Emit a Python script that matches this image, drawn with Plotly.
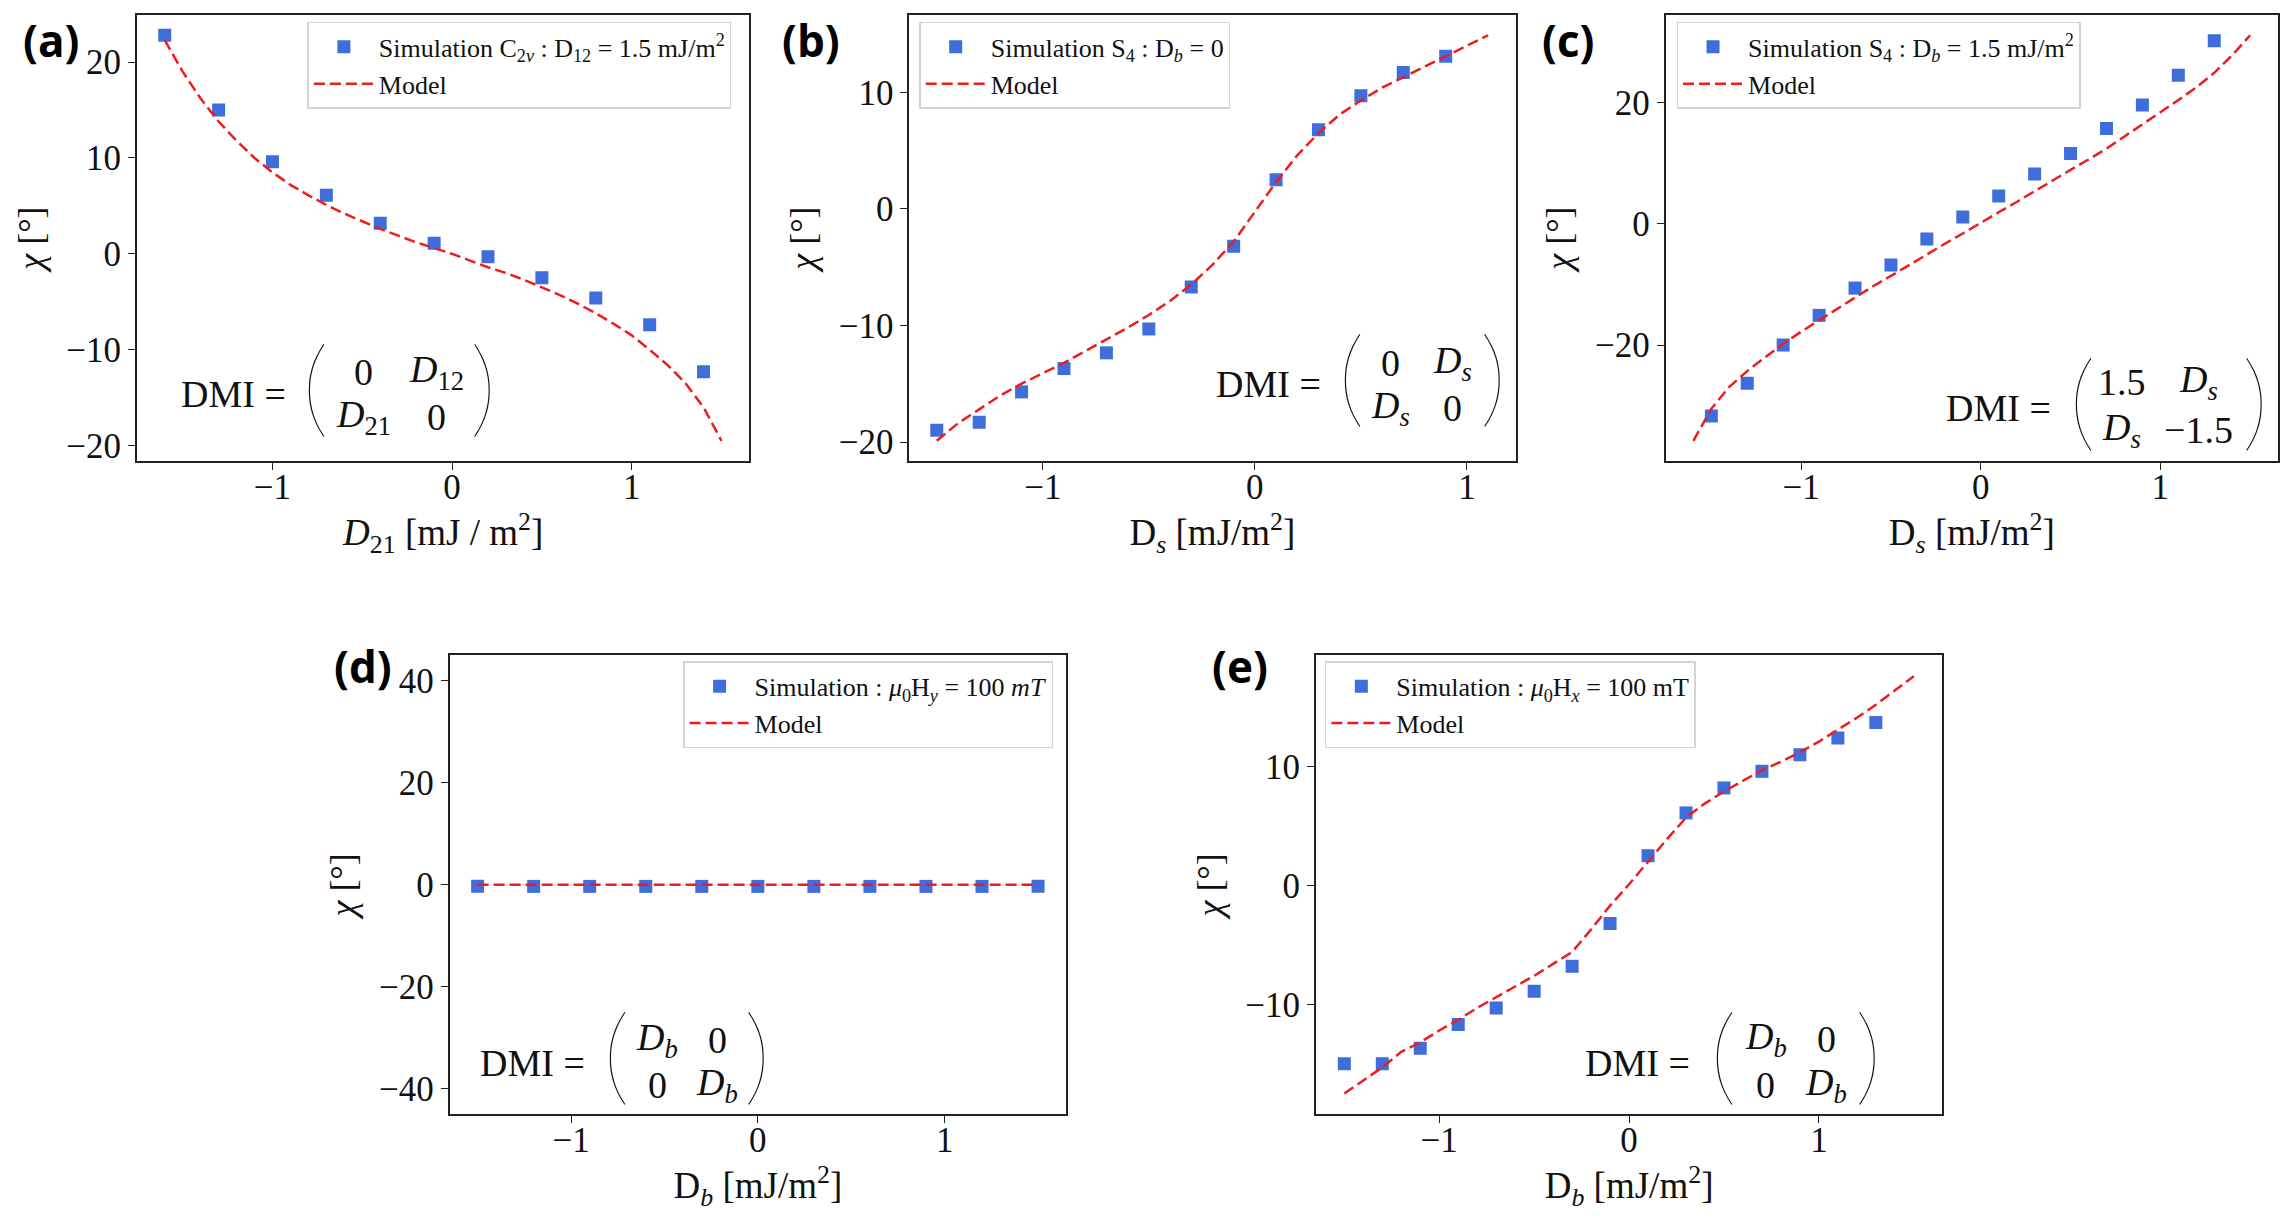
import plotly.graph_objects as go

# ---- data ----
# (a) C2v, D12 = 1.5
a_x = [-1.6, -1.3, -1.0, -0.7, -0.4, -0.1, 0.2, 0.5, 0.8, 1.1, 1.4]
a_sim = [22.8, 15.0, 9.6, 6.1, 3.2, 1.1, -0.3, -2.5, -4.6, -7.4, -12.3]
a_mx = [-1.6, -1.5, -1.4, -1.3, -1.2, -1.1, -1.0, -0.9, -0.8, -0.7, -0.6, -0.5, -0.4, -0.3, -0.2, -0.1,
        0.0, 0.1, 0.2, 0.3, 0.4, 0.5, 0.6, 0.7, 0.8, 0.9, 1.0, 1.1, 1.2, 1.3, 1.4, 1.5]
a_model = [22.3, 19.0, 16.2, 13.8, 11.8, 10.0, 8.5, 7.2, 6.1, 5.1, 4.2, 3.4, 2.6, 1.9, 1.2, 0.6,
           0.0, -0.7, -1.4, -2.0, -2.7, -3.5, -4.3, -5.2, -6.2, -7.3, -8.5, -10.0, -11.6, -13.5, -16.0, -19.5]

# (b) S4, Db = 0
b_x = [-1.5, -1.3, -1.1, -0.9, -0.7, -0.5, -0.3, -0.1, 0.1, 0.3, 0.5, 0.7, 0.9]
b_sim = [-19.0, -18.3, -15.7, -13.7, -12.35, -10.3, -6.7, -3.2, 2.5, 6.8, 9.7, 11.7, 13.1]
b_mx = [-1.5, -1.4, -1.3, -1.2, -1.1, -1.0, -0.9, -0.8, -0.7, -0.6, -0.5, -0.4, -0.3, -0.2, -0.1,
        0.0, 0.1, 0.2, 0.3, 0.4, 0.5, 0.6, 0.7, 0.8, 0.9, 1.0, 1.1]
b_model = [-19.9, -18.4, -17.2, -16.0, -15.0, -14.1, -13.2, -12.2, -11.2, -10.2, -9.1, -7.9, -6.5, -4.8, -2.8,
           -0.2, 2.3, 4.6, 6.5, 8.1, 9.3, 10.4, 11.3, 12.2, 13.1, 14.0, 14.9]

# (c) S4, Db = 1.5
c_x = [-1.5, -1.3, -1.1, -0.9, -0.7, -0.5, -0.3, -0.1, 0.1, 0.3, 0.5, 0.7, 0.9, 1.1, 1.3]
c_sim = [-31.7, -26.3, -20.0, -15.1, -10.6, -6.8, -2.5, 1.1, 4.6, 8.2, 11.6, 15.7, 19.6, 24.5, 30.2]
c_mx = [-1.6, -1.5, -1.4, -1.3, -1.2, -1.1, -1.0, -0.9, -0.8, -0.7, -0.6, -0.5, -0.4, -0.3, -0.2, -0.1,
        0.0, 0.1, 0.2, 0.3, 0.4, 0.5, 0.6, 0.7, 0.8, 0.9, 1.0, 1.1, 1.2, 1.3, 1.4, 1.5]
c_model = [-35.8, -30.5, -26.9, -24.3, -22.0, -19.8, -17.8, -15.9, -14.0, -12.1, -10.3, -8.6, -6.8, -5.1, -3.3, -1.6,
           0.2, 1.9, 3.6, 5.4, 7.1, 8.9, 10.6, 12.4, 14.4, 16.4, 18.3, 20.4, 22.5, 24.9, 27.8, 31.1]

# (d) mu0 Hy = 100 mT
d_x = [-1.5, -1.2, -0.9, -0.6, -0.3, 0.0, 0.3, 0.6, 0.9, 1.2, 1.5]
d_sim = [-0.3, -0.3, -0.3, -0.3, -0.3, -0.3, -0.3, -0.3, -0.3, -0.3, -0.3]
d_mx = [-1.5, -1.2, -0.9, -0.6, -0.3, 0.0, 0.3, 0.6, 0.9, 1.2, 1.5]
d_model = [0.0, 0.0, 0.0, 0.0, 0.0, 0.0, 0.0, 0.0, 0.0, 0.0, 0.0]

# (e) mu0 Hx = 100 mT
e_x = [-1.5, -1.3, -1.1, -0.9, -0.7, -0.5, -0.3, -0.1, 0.1, 0.3, 0.5, 0.7, 0.9, 1.1, 1.3]
e_sim = [-15.0, -15.0, -13.7, -11.7, -10.3, -8.9, -6.8, -3.2, 2.5, 6.1, 8.2, 9.6, 11.0, 12.4, 13.7]
e_mx = [-1.5, -1.4, -1.3, -1.2, -1.1, -1.0, -0.9, -0.8, -0.7, -0.6, -0.5, -0.4, -0.3, -0.2, -0.1,
        0.0, 0.1, 0.2, 0.3, 0.4, 0.5, 0.6, 0.7, 0.8, 0.9, 1.0, 1.1, 1.2, 1.3, 1.4, 1.5]
e_model = [-17.5, -16.4, -15.3, -14.0, -13.2, -12.2, -11.3, -10.3, -9.4, -8.5, -7.6, -6.6, -5.6, -3.7, -1.7,
           0.1, 2.0, 3.9, 5.7, 6.9, 7.9, 8.8, 9.7, 10.4, 11.2, 12.1, 13.1, 14.1, 15.2, 16.4, 17.6]

x_ticks = [-1, 0, 1]
a_yticks = [-20, -10, 0, 10, 20]
b_yticks = [-20, -10, 0, 10]
c_yticks = [-20, 0, 20]
d_yticks = [-40, -20, 0, 20, 40]
e_yticks = [-10, 0, 10]

sim_names = [
    "Simulation C<sub>2<i>v</i></sub> : D<sub>12</sub> = 1.5 mJ/m<sup>2</sup>",
    "Simulation S<sub>4</sub> : D<sub><i>b</i></sub> = 0",
    "Simulation S<sub>4</sub> : D<sub><i>b</i></sub> = 1.5 mJ/m<sup>2</sup>",
    "Simulation : <i>μ</i><sub>0</sub>H<sub><i>y</i></sub> = 100 <i>mT</i>",
    "Simulation : <i>μ</i><sub>0</sub>H<sub><i>x</i></sub> = 100 mT",
]
x_titles = [
    "<i>D</i><sub>21</sub> [mJ / m<sup>2</sup>]",
    "D<sub><i>s</i></sub> [mJ/m<sup>2</sup>]",
    "D<sub><i>s</i></sub> [mJ/m<sup>2</sup>]",
    "D<sub><i>b</i></sub> [mJ/m<sup>2</sup>]",
    "D<sub><i>b</i></sub> [mJ/m<sup>2</sup>]",
]
Ds = "<i>D<sub>s</sub></i>"
Db = "<i>D<sub>b</sub></i>"
matrices = [
    [["0", "<i>D</i><sub>12</sub>"], ["<i>D</i><sub>21</sub>", "0"]],
    [["0", Ds], [Ds, "0"]],
    [["1.5", Ds], [Ds, "−1.5"]],
    [[Db, "0"], ["0", Db]],
    [[Db, "0"], ["0", Db]],
]
letters = ["(a)", "(b)", "(c)", "(d)", "(e)"]

# the page body adds an 8px margin round the figure
WIN_W, WIN_H, OFF = 2288, 1220, 8
W, H = WIN_W - 2 * OFF, WIN_H - 2 * OFF
SERIF = "Liberation Serif, Times New Roman, serif"
INK = "#111111"


def fx(px):
    return (px - OFF) / W


def fy(py):
    return 1 - (py - OFF) / H


def pad(lo, hi, frac=0.05):
    span = hi - lo
    return [lo - frac * span, hi + frac * span]


# lab: (x, y, yanchor) of the panel letter, in window pixels
panels = [
    dict(x=a_x, s=a_sim, mx=a_mx, m=a_model, yt=a_yticks, yr=None,
         px=(137, 750), py=(15, 463), leg=(732, 22, "right"),
         dmi=(0.157, 0.150), paren=(0.291, 0.566), cols=(0.37, 0.49), rows=(0.20, 0.098),
         lab=(51, 8, "top")),
    dict(x=b_x, s=b_sim, mx=b_mx, m=b_model, yt=b_yticks, yr=None,
         px=(910, 1517), py=(15, 463), leg=(920, 22, "left"),
         dmi=(0.593, 0.172), paren=(0.73, 0.964), cols=(0.794, 0.896), rows=(0.22, 0.12),
         lab=(812, 8, "top")),
    dict(x=c_x, s=c_sim, mx=c_mx, m=c_model, yt=c_yticks, yr=None,
         px=(1667, 2280), py=(15, 463), leg=(1678, 22, "left"),
         dmi=(0.543, 0.118), paren=(0.68, 0.964), cols=(0.745, 0.871), rows=(0.178, 0.069),
         lab=(1569, 8, "top")),
    dict(x=d_x, s=d_sim, mx=d_mx, m=d_model, yt=d_yticks, yr=[-45, 45],
         px=(450, 1067), py=(658, 1119), leg=(1054, 664, "right"),
         dmi=(0.134, 0.113), paren=(0.27, 0.50), cols=(0.337, 0.434), rows=(0.163, 0.063),
         lab=(363, 669, "middle")),
    dict(x=e_x, s=e_sim, mx=e_mx, m=e_model, yt=e_yticks, yr=None,
         px=(1317, 1944), py=(658, 1119), leg=(1326, 664, "left"),
         dmi=(0.514, 0.113), paren=(0.651, 0.882), cols=(0.718, 0.815), rows=(0.165, 0.063),
         lab=(1241, 669, "middle")),
]

fig = go.Figure()
layout = {}
annotations = []

for i, p in enumerate(panels):
    n = "" if i == 0 else str(i + 1)
    xa, ya = "x" + n, "y" + n
    leg = "legend" + n

    fig.add_trace(go.Scatter(
        x=p["x"], y=p["s"], mode="markers", name=sim_names[i],
        marker=dict(symbol="square", size=13, color="#3f6ddb"),
        xaxis=xa, yaxis=ya, legend=leg))
    fig.add_trace(go.Scatter(
        x=p["mx"], y=p["m"], mode="lines", name="Model",
        line=dict(color="#ee1c1c", width=2.5, dash="11px,5px"),
        xaxis=xa, yaxis=ya, legend=leg))

    allx = p["x"] + p["mx"]
    ally = p["s"] + p["m"]
    yr = p["yr"] if p["yr"] else pad(min(ally), max(ally))

    axis_common = dict(
        showline=True, mirror=True, linecolor="#222222", linewidth=1.6,
        ticks="outside", ticklen=7, tickwidth=1.4, tickcolor="#222222",
        showgrid=False, zeroline=False,
        tickfont=dict(family=SERIF, size=35, color=INK),
    )
    layout["xaxis" + n] = dict(
        axis_common, domain=[fx(p["px"][0]), fx(p["px"][1])], anchor=ya,
        range=pad(min(allx), max(allx)), tickvals=x_ticks, ticklabelstandoff=-13,
        title=dict(text=x_titles[i], font=dict(family=SERIF, size=37, color=INK), standoff=3),
    )
    layout["yaxis" + n] = dict(
        axis_common, domain=[fy(p["py"][1]), fy(p["py"][0])], anchor=xa,
        range=yr, tickvals=p["yt"],
        title=dict(text="<i>χ</i> [°]", font=dict(family=SERIF, size=36, color=INK), standoff=12),
    )

    lx, ly, anchor = p["leg"]
    layout[leg] = dict(
        x=fx(lx), y=fy(ly), xanchor=anchor, yanchor="top",
        bgcolor="rgba(255,255,255,0.85)", bordercolor="#d4d4d4", borderwidth=1.5,
        font=dict(family=SERIF, size=26, color=INK), itemwidth=60, tracegroupgap=0,
    )

    ref = dict(xref=xa + " domain", yref=ya + " domain", showarrow=False,
               xanchor="center", yanchor="middle")
    annotations.append(dict(ref, x=p["dmi"][0], y=p["dmi"][1], text="DMI =",
                            font=dict(family=SERIF, size=38, color=INK)))
    lp, rp = p["paren"]
    for xx, ch in ((lp, "("), (rp, ")")):
        annotations.append(dict(ref, x=xx, y=p["dmi"][1] + 0.026, text=ch,
                                font=dict(family="Lato, DejaVu Sans", size=106, color=INK, weight=200)))
    for r in range(2):
        for c in range(2):
            annotations.append(dict(ref, x=p["cols"][c], y=p["rows"][r], text=matrices[i][r][c],
                                    font=dict(family=SERIF, size=38, color=INK)))

    labx, laby, labanchor = p["lab"]
    annotations.append(dict(xref="paper", yref="paper", showarrow=False,
                            xanchor="center", yanchor=labanchor,
                            x=fx(labx), y=fy(laby), text="<b>" + letters[i] + "</b>",
                            font=dict(family="Liberation Sans Narrow, Open Sans, sans-serif",
                                      size=44, color="#000000")))

fig.update_layout(
    **layout,
    annotations=annotations,
    width=W, height=H,
    margin=dict(l=0, r=0, t=0, b=0),
    paper_bgcolor="white", plot_bgcolor="white",
    showlegend=True,
)

fig.write_html("out.html")
